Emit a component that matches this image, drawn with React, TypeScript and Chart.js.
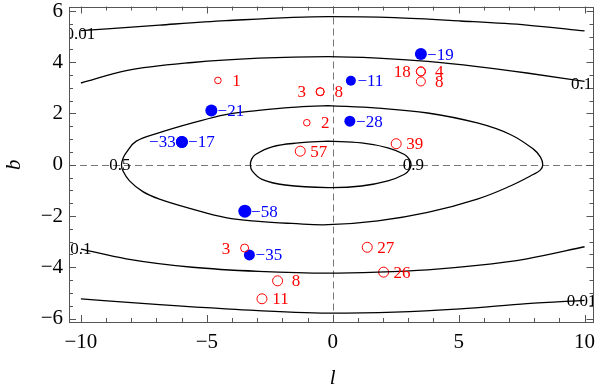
import { useEffect, useRef } from "react";
import { Chart, registerables } from "chart.js";

Chart.register(...registerables);

const FONT = "'Liberation Serif', 'DejaVu Serif', serif";

// axis ticks
const xTicks = [-10, -5, 0, 5, 10];
const yTicks = [-6, -4, -2, 0, 2, 4, 6];
const xMinorStep = 1;
const yMinorStep = 0.5;

// red open circles (l, b, label, label side, marker size)
const redL = [-4.56, -1.29, -1.03, -0.5, -0.5, 2.52, 3.5, 3.5, 3.5, 1.37, 2.02, -3.5, -2.19, -2.81];
const redB = [3.29, 0.53, 1.64, 2.85, 2.85, 0.82, 3.64, 3.64, 3.25, -3.22, -4.19, -3.25, -4.53, -5.23];
const redLabels = [1, 57, 2, 3, 8, 39, 18, 4, 8, 27, 26, 3, 8, 11];
const redSide = [1, 1, 1, -1, 1, 1, -1, 1, 1, 1, 1, -1, 1, 1];
const redSize = [3.3, 5, 3.3, 4, 4, 5, 4.5, 4.5, 4.5, 5, 5, 4, 5, 5];

// blue filled circles
const blueL = [-4.82, -5.99, -5.99, 0.72, 0.68, 3.5, -3.49, -3.31];
const blueB = [2.12, 0.89, 0.89, 3.28, 1.7, 4.32, -1.81, -3.52];
const blueLabels = [-21, -33, -17, -11, -28, -19, -58, -35];
const blueSide = [1, -1, 1, 1, 1, 1, 1, 1];
const blueSize = [6, 6, 6, 5, 5.5, 6, 6.5, 5.5];

// contour 0.9 (closed)
const c09L = [-0.18, 1.14, 2.19, 2.85, 3.05, 3.11, 3.05, 2.85, 2.19, 1.14, -0.18, -1.89, -2.81, -3.2, -3.27, -3.22, -3.07, -2.41, -1.36, -0.18];
const c09B = [0.92, 0.85, 0.66, 0.4, 0.2, 0.0, -0.18, -0.37, -0.63, -0.83, -0.89, -0.79, -0.57, -0.24, 0.0, 0.22, 0.4, 0.7, 0.85, 0.92];
// contour 0.5 (closed)
const c05L = [-0.18, 1.79, 3.77, 5.74, 7.05, 7.98, 8.25, 8.34, 8.25, 7.98, 7.05, 5.74, 3.77, 1.79, -0.18, -1.63, -2.94, -4.25, -5.57, -6.88, -7.54, -8.07, -8.33, -8.39, -8.33, -8.2, -7.8, -6.88, -5.57, -4.25, -2.94, -1.63, -0.18];
const c05B = [2.31, 2.21, 2.02, 1.63, 1.18, 0.6, 0.3, 0.0, -0.2, -0.37, -0.83, -1.34, -1.86, -2.19, -2.34, -2.29, -2.21, -2.06, -1.73, -1.34, -1.05, -0.63, -0.24, 0.0, 0.24, 0.47, 0.92, 1.25, 1.63, 1.96, 2.12, 2.24, 2.31];
// contour 0.1 (open, upper & lower)
const c01L = [-10, -8.2, -5.57, -2.94, -0.18, 1.79, 3.77, 5.74, 7.71, 10];
const c01UpB = [3.19, 3.67, 3.99, 4.16, 4.22, 4.16, 4.03, 3.83, 3.58, 3.25];
const c01LoB = [-3.29, -3.67, -4.0, -4.16, -4.23, -4.19, -4.1, -3.93, -3.67, -3.2];
// contour 0.01 (open, upper & lower)
const c001L = [-10, -6.88, -4.25, -0.18, 2.45, 5.08, 7.71, 10];
const c001UpB = [5.23, 5.45, 5.62, 5.78, 5.74, 5.61, 5.45, 5.22];
const c001LoB = [-5.23, -5.46, -5.62, -5.79, -5.75, -5.62, -5.42, -5.29];

// contour labels
const cLabelText = ["0.9", "0.5", "0.1", "0.1", "0.01", "0.01"];
const cLabelL = [3.2, -8.45, -10, 9.88, -10.02, 9.88];
const cLabelB = [0, 0, -3.27, 3.18, 5.13, -5.28];

const fmt = (v: number) => (v < 0 ? "\u2212" + Math.abs(v) : String(v));
const pts = (ls: number[], bs: number[]) => ls.map((l, i) => ({ x: l, y: bs[i] }));

const contourDs = (data: { x: number; y: number }[], closed: boolean) => ({
  type: "scatter" as const,
  data,
  showLine: true,
  borderColor: "#000",
  borderWidth: 1.3,
  pointRadius: 0,
  pointHoverRadius: 0,
  fill: false,
  tension: closed ? 0.4 : 0,
  cubicInterpolationMode: closed ? "default" : "monotone",
});

const framePlugin = {
  id: "framePlugin",
  beforeDatasetsDraw(chart: any) {
    const { ctx, chartArea: a, scales } = chart;
    const x0 = scales.x.getPixelForValue(0);
    const y0 = scales.y.getPixelForValue(0);
    ctx.save();
    ctx.strokeStyle = "#777";
    ctx.lineWidth = 1;
    ctx.setLineDash([7, 4]);
    ctx.beginPath();
    ctx.moveTo(Math.round(x0) + 0.5, a.top);
    ctx.lineTo(Math.round(x0) + 0.5, a.bottom);
    ctx.moveTo(a.left, Math.round(y0) + 0.5);
    ctx.lineTo(a.right, Math.round(y0) + 0.5);
    ctx.stroke();
    ctx.restore();
  },
  afterDatasetsDraw(chart: any) {
    const { ctx, chartArea: a, scales } = chart;
    const sx = scales.x;
    const sy = scales.y;
    ctx.save();
    ctx.textAlign = "center";
    ctx.textBaseline = "middle";
    ctx.font = `17px ${FONT}`;
    // point labels
    redL.forEach((l, i) => {
      ctx.fillStyle = "#ff0000";
      ctx.fillText(fmt(redLabels[i]), sx.getPixelForValue(l) + redSide[i] * 18.5, sy.getPixelForValue(redB[i]) + 1);
    });
    blueL.forEach((l, i) => {
      ctx.fillStyle = "#0000ff";
      ctx.fillText(fmt(blueLabels[i]), sx.getPixelForValue(l) + blueSide[i] * 19.5, sy.getPixelForValue(blueB[i]) + 1);
    });
    // contour labels (clipped)
    ctx.beginPath();
    ctx.rect(a.left, a.top, a.right - a.left, a.bottom - a.top);
    ctx.clip();
    ctx.fillStyle = "#000";
    cLabelText.forEach((t, i) => {
      ctx.fillText(t, sx.getPixelForValue(cLabelL[i]), sy.getPixelForValue(cLabelB[i]) + 1);
    });
    ctx.restore();
  },
  afterDraw(chart: any) {
    const { ctx, chartArea: a, scales } = chart;
    const sx = scales.x;
    const sy = scales.y;
    ctx.save();
    ctx.strokeStyle = "#555";
    ctx.lineWidth = 1;
    ctx.strokeRect(Math.round(a.left) + 0.5, Math.round(a.top) + 0.5, Math.round(a.right - a.left) - 1, Math.round(a.bottom - a.top) - 1);
    ctx.beginPath();
    const first = xTicks[0];
    const last = xTicks[xTicks.length - 1];
    for (let v = first; v <= last + 1e-9; v += xMinorStep) {
      const major = xTicks.some((t) => Math.abs(t - v) < 1e-9);
      const len = major ? 7 : 4;
      const px = Math.round(sx.getPixelForValue(v)) + 0.5;
      ctx.moveTo(px, a.bottom);
      ctx.lineTo(px, a.bottom - len);
      ctx.moveTo(px, a.top);
      ctx.lineTo(px, a.top + len);
    }
    const yf = yTicks[0];
    const yl = yTicks[yTicks.length - 1];
    for (let v = yf; v <= yl + 1e-9; v += yMinorStep) {
      const major = yTicks.some((t) => Math.abs(t - v) < 1e-9);
      const len = major ? 7 : 4;
      const py = Math.round(sy.getPixelForValue(v)) + 0.5;
      ctx.moveTo(a.left, py);
      ctx.lineTo(a.left + len, py);
      ctx.moveTo(a.right, py);
      ctx.lineTo(a.right - len, py);
    }
    ctx.stroke();
    // axis titles
    ctx.fillStyle = "#000";
    ctx.font = `italic 21px ${FONT}`;
    ctx.textAlign = "center";
    ctx.textBaseline = "middle";
    ctx.fillText("l", sx.getPixelForValue(0), 378);
    ctx.translate(14, sy.getPixelForValue(0));
    ctx.rotate(-Math.PI / 2);
    ctx.fillText("b", 0, 0);
    ctx.restore();
  },
};

const noPad = (s: any) => {
  s.paddingLeft = 0;
  s.paddingRight = 0;
  s.paddingTop = 0;
  s.paddingBottom = 0;
};

export default function App() {
  const ref = useRef<HTMLCanvasElement | null>(null);
  useEffect(() => {
    document.body.style.margin = "0";
    const canvas = ref.current;
    if (!canvas) return;
    const chart = new Chart(canvas, {
      type: "scatter",
      data: {
        datasets: [
          contourDs(pts(c09L, c09B), true),
          contourDs(pts(c05L, c05B), true),
          contourDs(pts(c01L, c01UpB), false),
          contourDs(pts(c01L, c01LoB), false),
          contourDs(pts(c001L, c001UpB), false),
          contourDs(pts(c001L, c001LoB), false),
          {
            type: "scatter",
            data: pts(redL, redB),
            pointRadius: redSize,
            pointHoverRadius: redSize,
            pointBackgroundColor: "rgba(0,0,0,0)",
            pointBorderColor: "#ff0000",
            pointBorderWidth: 1,
          },
          {
            type: "scatter",
            data: pts(blueL, blueB),
            pointRadius: blueSize,
            pointHoverRadius: blueSize,
            pointBackgroundColor: "#0000ff",
            pointBorderColor: "#0000ff",
            pointBorderWidth: 0,
          },
        ] as any,
      },
      options: {
        animation: false,
        responsive: false,
        events: [],
        layout: { padding: { left: 0, right: 3, top: 5, bottom: 0 } },
        plugins: { legend: { display: false }, tooltip: { enabled: false } },
        scales: {
          x: {
            type: "linear",
            min: -10.473,
            max: 10.355,
            afterBuildTicks: (s: any) => {
              s.ticks = xTicks.map((v) => ({ value: v }));
            },
            afterFit: (s: any) => {
              s.height = 68;
              noPad(s);
            },
            grid: { display: false, drawTicks: false },
            border: { display: false },
            ticks: {
              autoSkip: false,
              maxRotation: 0,
              padding: 8,
              color: "#000",
              font: { family: FONT, size: 21 },
              callback: (v: any) => fmt(Number(v)),
            },
          },
          y: {
            type: "linear",
            min: -6.136,
            max: 6.175,
            afterBuildTicks: (s: any) => {
              s.ticks = yTicks.map((v) => ({ value: v }));
            },
            afterFit: (s: any) => {
              s.width = 69;
              noPad(s);
            },
            grid: { display: false, drawTicks: false },
            border: { display: false },
            ticks: {
              autoSkip: false,
              padding: 6,
              color: "#000",
              font: { family: FONT, size: 21 },
              callback: (v: any) => fmt(Number(v)),
            },
          },
        },
      },
      plugins: [framePlugin],
    });
    return () => chart.destroy();
  }, []);
  return (
    <div style={{ position: "fixed", left: 0, top: 0, width: 600, height: 390 }}>
      <canvas ref={ref} width={600} height={390} style={{ display: "block" }} />
    </div>
  );
}
